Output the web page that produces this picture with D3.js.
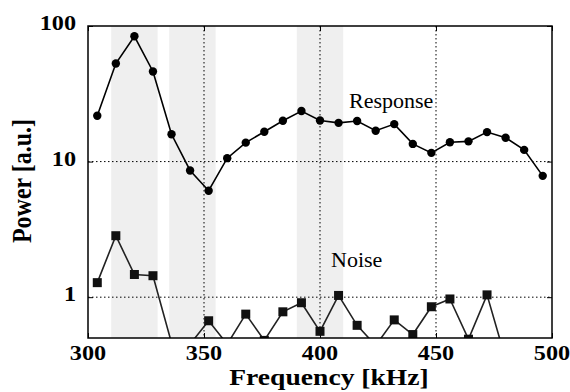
<!DOCTYPE html>
<html>
<head>
<meta charset="utf-8">
<script src="https://cdn.jsdelivr.net/npm/d3@7"></script>
<style>
  body { margin: 0; background: #fff; }
  svg { display: block; }
</style>
</head>
<body>
<div id="chart"></div>
<script>
// Frequency sweep, one point every 8 kHz
const freqs = [304, 312, 320, 328, 336, 344, 352, 360, 368, 376, 384, 392, 400,
               408, 416, 424, 432, 440, 448, 456, 464, 472, 480, 488, 496];

// Response power (a.u.)
const response = [21.8, 52.9, 84, 46.2, 15.9, 8.6, 6.1, 10.6, 13.8, 16.6, 20.0, 23.6, 20.1,
                  19.3, 19.9, 16.9, 18.9, 13.5, 11.6, 13.9, 14.1, 16.5, 15.0, 12.2, 7.85];

// Noise power (a.u.), values below 0.5 fall under the axis
const noise = [1.28, 2.84, 1.47, 1.44, 0.46, 0.45, 0.67, 0.45, 0.75, 0.48, 0.78, 0.91, 0.56,
               1.03, 0.62, 0.44, 0.68, 0.53, 0.85, 0.97, 0.49, 1.04, 0.35, 0.32, 0.3];

// shaded frequency bands [from, to] in kHz
const bands = [[310, 330], [335, 355], [390, 410]];

const xTicks = [300, 350, 400, 450, 500];
const yTicks = [1, 10, 100];

const width = 570, height = 392;
const margin = { top: 26, right: 18, bottom: 54, left: 88 };
const sx = 1.1; // the reference text looks a little stretched sideways
const serif = '"Liberation Serif"';

const svg = d3.select("#chart").append("svg")
  .attr("width", width)
  .attr("height", height);

const x = d3.scaleLinear().domain([300, 500]).range([margin.left, width - margin.right]);
const y = d3.scaleLog().domain([0.5, 100]).range([height - margin.bottom, margin.top]);

svg.append("defs").append("clipPath").attr("id", "plot-clip")
  .append("rect")
  .attr("x", margin.left).attr("y", margin.top)
  .attr("width", x.range()[1] - margin.left)
  .attr("height", y.range()[0] - margin.top);

// grey bands
svg.append("g").selectAll("rect")
  .data(bands)
  .enter().append("rect")
  .attr("x", d => x(d[0]))
  .attr("y", margin.top)
  .attr("width", d => x(d[1]) - x(d[0]))
  .attr("height", y.range()[0] - margin.top)
  .attr("fill", "#efefef");

// dotted grid
const grid = svg.append("g").attr("stroke", "#000").attr("stroke-width", 1)
  .attr("stroke-dasharray", "1.5,2.5");
grid.selectAll("line.gx")
  .data(xTicks.slice(1, -1))
  .enter().append("line")
  .attr("x1", d => x(d)).attr("x2", d => x(d))
  .attr("y1", margin.top).attr("y2", y.range()[0]);
grid.selectAll("line.gy")
  .data([1, 10])
  .enter().append("line")
  .attr("y1", d => y(d)).attr("y2", d => y(d))
  .attr("x1", margin.left).attr("x2", x.range()[1]);

// axes with short inward ticks, labels drawn separately
const xAxis = d3.axisBottom(x).tickValues(xTicks).tickSize(-5).tickFormat("");
const yAxis = d3.axisLeft(y).tickValues(yTicks).tickSize(-5).tickFormat("");
const yAxisR = d3.axisRight(y).tickValues(yTicks).tickSize(-5).tickFormat("");
const xAxisT = d3.axisTop(x).tickValues(xTicks).tickSize(-5).tickFormat("");

[[xAxis, `translate(0,${y.range()[0]})`], [xAxisT, `translate(0,${margin.top})`],
 [yAxis, `translate(${margin.left},0)`], [yAxisR, `translate(${x.range()[1]},0)`]]
  .forEach(([ax, tr]) => {
    const g = svg.append("g").attr("transform", tr).call(ax);
    g.select(".domain").remove();
    g.selectAll("line").attr("stroke", "#000").attr("stroke-width", 1);
  });

// data layer
const plot = svg.append("g").attr("clip-path", "url(#plot-clip)");

const resp = freqs.map((f, i) => ({ f, v: response[i] }));
const nois = freqs.map((f, i) => ({ f, v: noise[i] }));

const line = d3.line().x(d => x(d.f)).y(d => y(d.v));

plot.append("path").datum(resp)
  .attr("d", line).attr("fill", "none")
  .attr("stroke", "#000").attr("stroke-width", 1.6);
plot.append("path").datum(nois)
  .attr("d", line).attr("fill", "none")
  .attr("stroke", "#222").attr("stroke-width", 1.6);

plot.selectAll("circle")
  .data(resp)
  .enter().append("circle")
  .attr("cx", d => x(d.f)).attr("cy", d => y(d.v))
  .attr("r", 4.2).attr("fill", "#000");

const sq = 9;
plot.selectAll("rect.sq")
  .data(nois)
  .enter().append("rect")
  .attr("class", "sq")
  .attr("x", d => x(d.f) - sq / 2).attr("y", d => y(d.v) - sq / 2)
  .attr("width", sq).attr("height", sq).attr("fill", "#111");

// frame
svg.append("rect")
  .attr("x", margin.left).attr("y", margin.top)
  .attr("width", x.range()[1] - margin.left)
  .attr("height", y.range()[0] - margin.top)
  .attr("fill", "none").attr("stroke", "#000").attr("stroke-width", 1.5);

// tick labels
svg.append("g").selectAll("text")
  .data(xTicks)
  .enter().append("text")
  .attr("transform", d => `translate(${x(d)},360) scale(${sx},1)`)
  .attr("text-anchor", "middle")
  .style("font-family", serif)
  .attr("font-size", 22).attr("font-weight", "bold")
  .text(d => d);

svg.append("g").selectAll("text")
  .data(yTicks)
  .enter().append("text")
  .attr("transform", d => `translate(76,${y(d) + 4}) scale(${sx},1)`)
  .attr("text-anchor", "end")
  .style("font-family", serif)
  .attr("font-size", 22).attr("font-weight", "bold")
  .text(d => d);

// axis titles
svg.append("text")
  .attr("transform", `translate(329,385) scale(1.15,1)`)
  .attr("text-anchor", "middle")
  .style("font-family", serif)
  .attr("font-size", 24).attr("font-weight", "bold")
  .text("Frequency [kHz]");

svg.append("text")
  .attr("transform", `translate(31,181) scale(${sx},1) rotate(-90)`)
  .attr("text-anchor", "middle")
  .style("font-family", serif)
  .attr("font-size", 24).attr("font-weight", "bold")
  .text("Power [a.u.]");

// series annotations
svg.append("text")
  .attr("x", 349).attr("y", 108)
  .style("font-family", serif)
  .attr("font-size", 22)
  .text("Response");
svg.append("text")
  .attr("x", 331).attr("y", 267)
  .style("font-family", serif)
  .attr("font-size", 22)
  .text("Noise");
</script>
</body>
</html>
